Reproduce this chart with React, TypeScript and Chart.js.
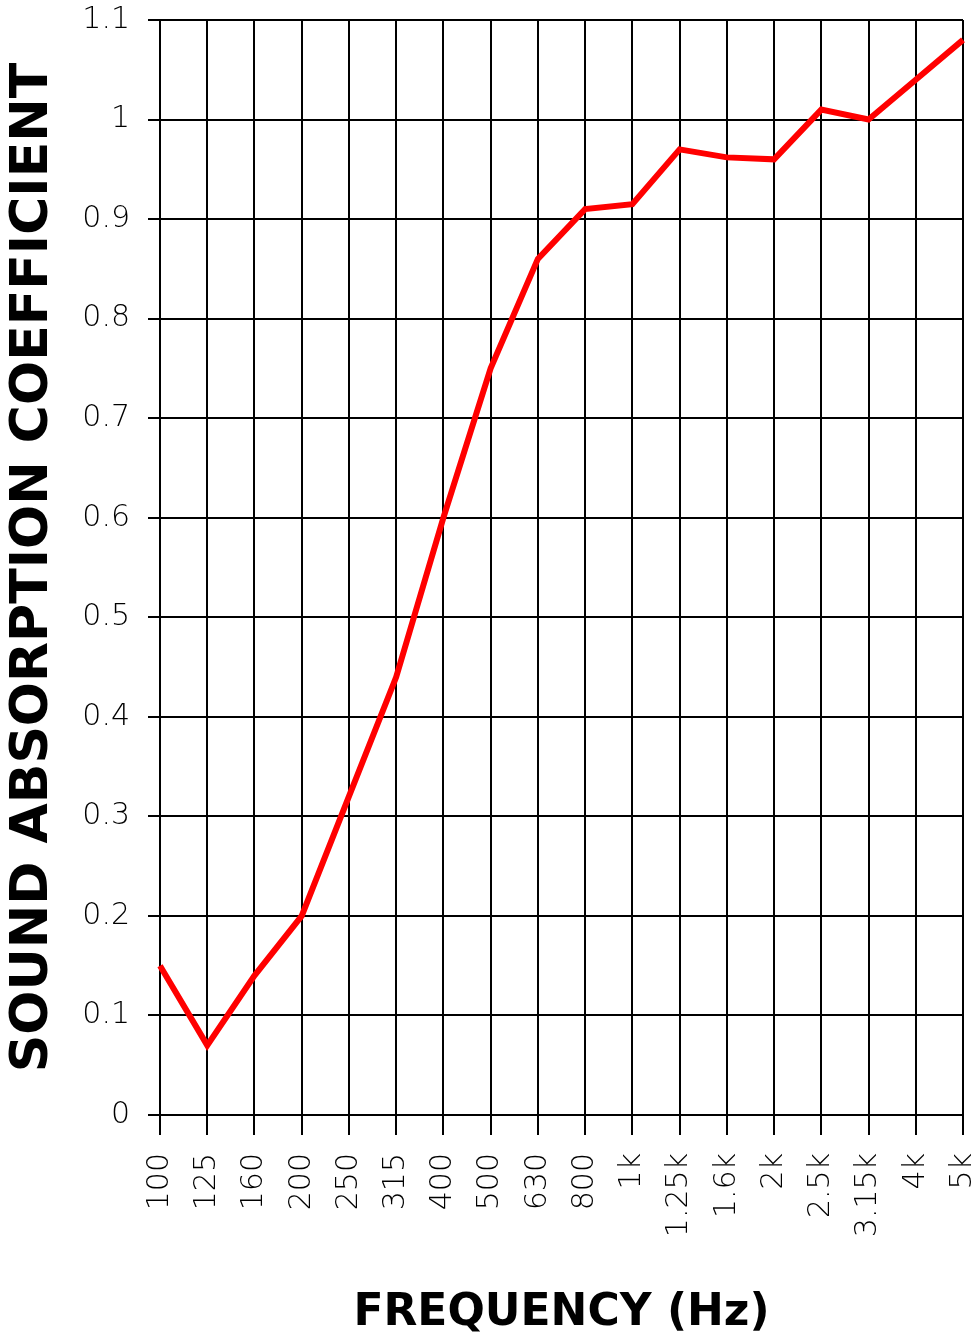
import React, { useEffect, useRef } from "react";
import { Chart, registerables } from "chart.js";

Chart.register(...registerables);

const frequencies = ["100", "125", "160", "200", "250", "315", "400", "500", "630", "800", "1k", "1.25k", "1.6k", "2k", "2.5k", "3.15k", "4k", "5k"];
const absorption = [0.15, 0.07, 0.14, 0.2, 0.32, 0.44, 0.6, 0.75, 0.86, 0.91, 0.915, 0.97, 0.962, 0.96, 1.01, 1.0, 1.04, 1.08];
const yTitle = "SOUND ABSORPTION COEFFICIENT";
const xTitle = "FREQUENCY (Hz)";

export default function App() {
  const ref = useRef<HTMLCanvasElement | null>(null);
  useEffect(() => {
    if (!ref.current) return;
    const chart = new Chart(ref.current, {
      type: "line",
      data: {
        labels: frequencies,
        datasets: [
          {
            data: absorption,
            borderColor: "#ff0000",
            borderWidth: 6,
            pointRadius: 0,
            tension: 0,
            fill: false,
          },
        ],
      },
      options: {
        responsive: false,
        animation: false,
        layout: { padding: { left: 0, right: 15, top: 20, bottom: 0 } },
        plugins: { legend: { display: false }, tooltip: { enabled: false } },
        scales: {
          x: {
            grid: { color: "#000", lineWidth: 2, tickLength: 20, tickColor: "#000" },
            border: { color: "#000", width: 2 },
            ticks: {
              color: "#000",
              font: { family: "DejaVu Sans", size: 30, weight: "200" as any },
              maxRotation: 90,
              minRotation: 90,
              padding: 18,
              autoSkip: false,
            },
            title: {
              display: true,
              text: xTitle,
              color: "#000",
              font: { family: "DejaVu Sans", size: 44, weight: "bold" },
              padding: { top: 0, bottom: -5 },
            },
            afterFit: (s: any) => {
              s.height = 220;
              s.paddingLeft = 0;
              s.paddingRight = 0;
            },
          },
          y: {
            min: 0,
            max: 1.1,
            grid: { color: "#000", lineWidth: 2, tickLength: 12, tickColor: "#000" },
            border: { color: "#000", width: 2 },
            ticks: {
              stepSize: 0.1,
              color: "#000",
              font: { family: "DejaVu Sans", size: 30, weight: "200" as any },
              padding: 18,
              callback: (v: any) => String(Number(Number(v).toFixed(1))),
            },
            title: {
              display: true,
              text: yTitle,
              color: "#000",
              font: { family: "DejaVu Sans", size: 52, weight: "bold" },
              padding: { top: 2, bottom: 0 },
            },
            afterFit: (s: any) => {
              s.width = 160;
              s.paddingTop = 0;
              s.paddingBottom = 0;
            },
          },
        },
      },
    });
    return () => chart.destroy();
  }, []);
  return (
    <div style={{ position: "absolute", left: 0, top: 0, width: 978, height: 1335, background: "#fff" }}>
      <canvas ref={ref} width={978} height={1335} style={{ display: "block", width: 978, height: 1335 }} />
    </div>
  );
}
